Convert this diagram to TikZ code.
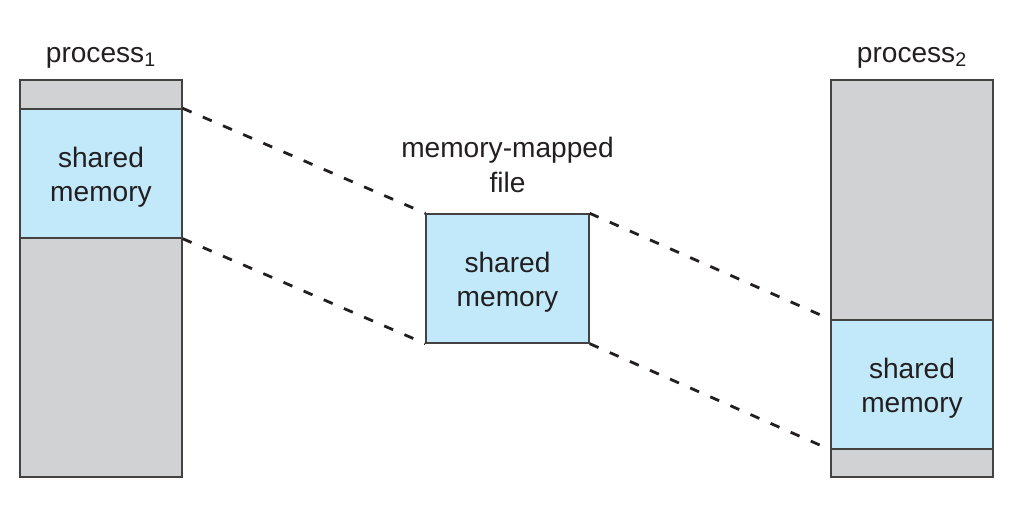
\documentclass[tikz,border=0pt]{standalone}
\usepackage{fontspec}
\setmainfont{Liberation Sans}
\usepackage{tikz}
\usetikzlibrary{positioning}
\definecolor{memgray}{HTML}{D1D2D4}
\definecolor{memblue}{HTML}{C2E9FA}
\definecolor{ink}{HTML}{231F20}
\newcommand{\sharedtext}{\raisebox{-0.09cm}[\height][\depth]{\begin{tabular}{@{}c@{}}shared\\memory\end{tabular}}}
\tikzstyle{space} = [draw=ink!85, fill=memgray, rectangle, line width=0.8pt,
    minimum width=3.24cm, minimum height=7.94cm, inner sep=0pt]
\tikzstyle{shared} = [draw=ink!85, fill=memblue, rectangle, line width=0.8pt,
    minimum width=3.24cm, minimum height=2.58cm, inner sep=0pt,
    text=ink, font=\fontsize{16}{19.5}\selectfont]
\tikzstyle{label} = [text=ink, align=center, font=\fontsize{16}{20}\selectfont]
\tikzstyle{map} = [ink, line width=1.6pt, dash pattern=on 5.5pt off 7pt]

\begin{document}
\begin{tikzpicture}[x=0.02cm, y=-0.02cm]
\useasboundingbox (0,0) rectangle (1024,519);

\node [space] (proc1) at (101,278.5) {};
\node [shared] (shm1) at (101,173.5) {\sharedtext};
\node [label, above=0.1cm of proc1] (name1) {process\textsubscript{1}};

\node [shared, minimum width=3.26cm] (file) at (507.5,278.5) {\sharedtext};
\node [label, above=0.28cm of file] (filename) {memory-mapped\\file};

\node [space] (proc2) at (912,278.5) {};
\node [shared] (shm2) at (912,384.5) {\sharedtext};
\node [label, above=0.1cm of proc2] (name2) {process\textsubscript{2}};

\draw [map] (shm1.north east) -- (file.north west);
\draw [map] (shm1.south east) -- (file.south west);
\draw [map] (file.north east) -- (shm2.north west);
\draw [map] (file.south east) -- (shm2.south west);

\end{tikzpicture}
\end{document}
